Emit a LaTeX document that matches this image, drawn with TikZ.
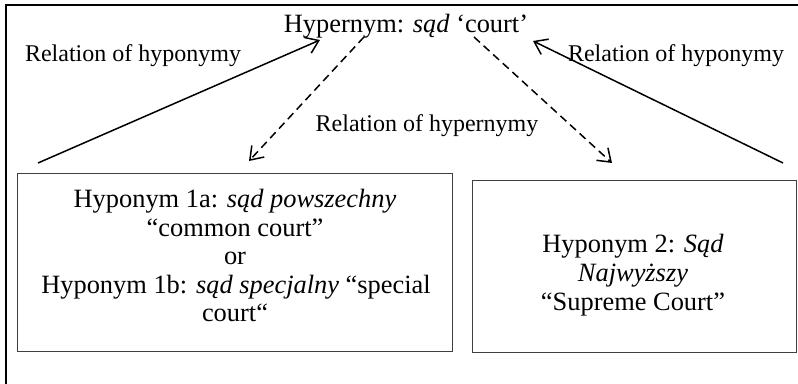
\documentclass[tikz,border=0pt]{standalone}
\usepackage{fontspec}
\setmainfont{Liberation Serif}[ItalicFont={Liberation Serif Italic}]
\usetikzlibrary{arrows.meta}
\begin{document}
\begin{tikzpicture}[x=0.5pt,y=-0.5pt,
  txt/.style={inner sep=0pt, anchor=base, font=\fontsize{12}{14.2}\selectfont},
  big/.style={txt, font=\fontsize{13.2}{14.2}\selectfont},
  box/.style={draw=black!75, line width=0.6pt, inner sep=0pt, anchor=north west},
  frame/.style={line width=1pt},
  rel/.style={line width=0.75pt, -{Straight Barb[length=6pt,width=8.5pt]}},
  hyper/.style={rel, dash pattern=on 4pt off 2.5pt}]
\useasboundingbox (0,0) rectangle (798,384);
% frame
\coordinate (fl) at (6,384);
\coordinate (fc) at (6,5);
\coordinate (fr) at (798,5);
\draw[frame] (fl) -- (fc) -- (fr);
% boxes
\node[box, minimum width=217.5pt, minimum height=89pt] (b1) at (17,173) {};
\node[box, minimum width=162pt, minimum height=86pt] (b2) at (472,180) {};
% texts
\node[big] (hyp) at (406,33) {Hypernym: \textit{sąd} ‘court’};
\node[txt] (rl) at (133,62) {Relation of hyponymy};
\node[txt] (rr) at (676,62) {Relation of hyponymy};
\node[txt] (rm) at (427,132) {Relation of hypernymy};
\node[big] (l1) at (235,208) {Hyponym 1a: \textit{sąd powszechny}};
\node[big] (l2) at (235,237) {“common court”};
\node[big] (l3) at (235,265) {or};
\node[big] (l4) at (236,294) {Hyponym 1b: \textit{sąd specjalny} “special};
\node[big] (l5) at (235,322) {court“};
\node[big] (r1) at (633,253) {Hyponym 2: \textit{Sąd}};
\node[big] (r2) at (633,282) {\textit{Najwyższy}};
\node[big] (r3) at (633,311) {“Supreme Court”};
% arrow end points
\coordinate (a1s) at (38,163);
\coordinate (a1e) at (320,40);
\coordinate (a2s) at (364,37);
\coordinate (a2e) at (249,161);
\coordinate (a3s) at (474,37);
\coordinate (a3e) at (612,163);
\coordinate (a4s) at (783,163);
\coordinate (a4e) at (533,41);
\draw[rel] (a1s) -- (a1e);
\draw[hyper] (a2s) -- (a2e);
\draw[hyper] (a3s) -- (a3e);
\draw[rel] (a4s) -- (a4e);
\end{tikzpicture}
\end{document}
